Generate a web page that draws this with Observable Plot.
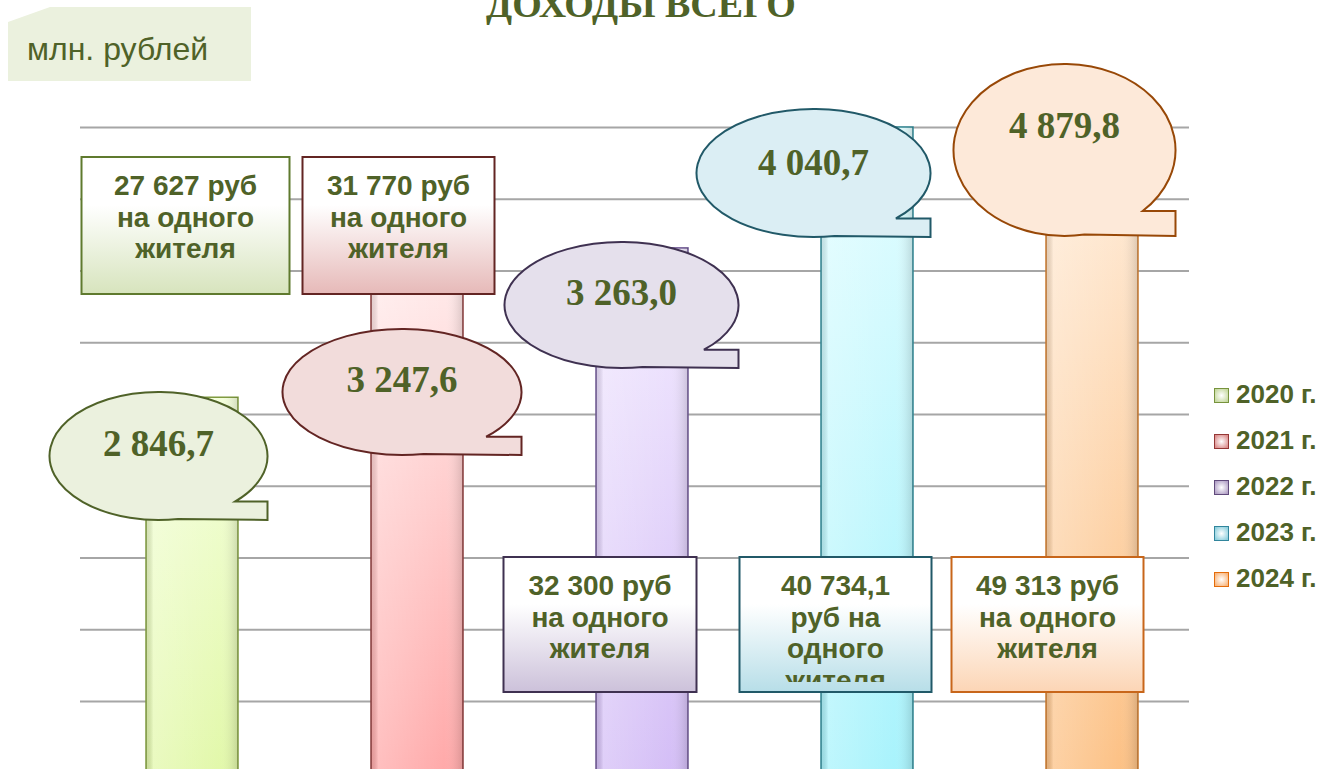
<!DOCTYPE html>
<html>
<head>
<meta charset="utf-8">
<script src="https://cdn.jsdelivr.net/npm/d3@7"></script>
<script src="https://cdn.jsdelivr.net/npm/@observablehq/plot@0.6"></script>
<style>
  html, body { margin: 0; padding: 0; overflow: hidden; background: #fff; }
  #page { position: relative; width: 1322px; height: 769px; overflow: hidden; }
  #chart { position: absolute; left: 0; top: 0; }
  #title { position: absolute; left: 0; width: 1282px; top: -14.8px; text-align: center;
           font: bold 38px/38px "Liberation Serif", "Times New Roman", serif; color: #4f6228; white-space: nowrap; }
  #unit { position: absolute; left: 8px; top: 7px; width: 243px; height: 74px; background: #ebf1de;
          clip-path: polygon(42px 0, 100% 0, 100% 100%, 0 100%, 0 15px); }
  #unit span { position: absolute; left: 19px; top: 26px; font: 32px/32px "Liberation Sans", Arial, sans-serif; color: #4f6228; white-space: nowrap; }
  .leg { position: absolute; left: 1214px; height: 26px; white-space: nowrap; }
  .leg i { position: absolute; left: 0; top: 7px; width: 13px; height: 13px; border: 1.5px solid; box-sizing: content-box; }
  .leg b { position: absolute; left: 22px; top: 0; font: bold 26px/26px "Liberation Sans", Arial, sans-serif; color: #4f6228; }
</style>
</head>
<body>
<div id="page">
  <div id="chart"></div>
  <div id="title"></div>
  <div id="unit"><span></span></div>
  <div id="legend"></div>
</div>
<svg id="defs" width="0" height="0" style="position:absolute;left:0;top:0"><defs></defs></svg>
<script>
// ---------------- DATA ----------------
const titleText = "ДОХОДЫ ВСЕГО";
const unitText = "млн. рублей";
const years = ["2020", "2021", "2022", "2023", "2024"];
const legendLabels = ["2020 г.", "2021 г.", "2022 г.", "2023 г.", "2024 г."];
const totals = [2846.7, 3247.6, 3263.0, 4040.7, 4879.8];          // млн. рублей
const perCapita = [27627, 31770, 32300, 40734.1, 49313];           // руб на одного жителя
const perCapitaUnit = "руб на одного жителя";
const gridValues = [1800, 2000, 2200, 2400, 2600, 2800, 3000, 3200, 3400, 3600];

// ---------------- STYLE / LAYOUT ----------------
const STYLE = {
  text: "#4f6228",
  barTop:    ["#f4ffdc", "#ffeded", "#f3ebff", "#e3fdff", "#ffeedd"],
  barBottom: ["#e2f8aa", "#ffa9a9", "#d4bef6", "#a8f3fc", "#fcc185"],
  barStroke: ["#7f9a3e", "#8a3b3b", "#6b5490", "#2f8794", "#c9782c"],
  bubbleFill:   ["#ebf1de", "#f2dcdb", "#e5e0ec", "#dbeef4", "#fde9d9"],
  bubbleStroke: ["#4f6228", "#632523", "#3f3151", "#215968", "#984807"],
  boxBottom: ["#d7e4bd", "#e6b9b8", "#ccc1da", "#b7dee8", "#fcd5b5"],
  boxStroke: ["#5f7a2e", "#632523", "#3f3151", "#215968", "#c8661a"],
  legFill:   ["#c6d9a0", "#dc8f8e", "#b3a2c7", "#8fd0de", "#f9b77f"],
  legStroke: ["#77933c", "#953735", "#604a7b", "#31859c", "#e46c0a"]
};
// annotation placement (pixels; dx relative to bar centre)
const LAYOUT = {
  bubbles: [
    {dx: -33.5, cy: 456, rx: 109,   ry: 64, tdy: 0},
    {dx: -15,   cy: 392, rx: 119.5, ry: 63, tdy: 0},
    {dx: -20.5, cy: 305, rx: 117,   ry: 63, tdy: 0},
    {dx: -53.5, cy: 173, rx: 117,   ry: 64, tdy: 2},
    {dx: -27.5, cy: 150, rx: 111,   ry: 86, tdy: -12}
  ],
  boxes: [
    {dx: -6.5,  y: 157, w: 208, h: 137},
    {dx: -18.5, y: 157, w: 192, h: 137},
    {dx: -42,   y: 557, w: 193, h: 135},
    {dx: -31.5, y: 557, w: 192, h: 135},
    {dx: -44.5, y: 557, w: 192, h: 135}
  ]
};

// ---------------- HELPERS ----------------
const loc = d3.formatLocale({decimal: ",", thousands: "\u00a0", grouping: [3], currency: ["", ""]});
const fmtTotal = loc.format(",.1f");
const fmtPer = v => Number.isInteger(v) ? loc.format(",d")(v) : loc.format(",.1f")(v);

const mctx = document.createElement("canvas").getContext("2d");
mctx.font = "bold 28px 'Liberation Sans'";
function wrap(text, maxW) {
  const words = text.split(" ");
  const lines = [];
  let cur = "";
  for (const w of words) {
    const t = cur ? cur + " " + w : w;
    if (cur && mctx.measureText(t).width > maxW) { lines.push(cur); cur = w; }
    else cur = t;
  }
  if (cur) lines.push(cur);
  return lines;
}

function bubblePath(cx, cy, rx, ry) {
  const f = 0.71;
  const p1x = cx + rx * Math.sqrt(1 - f * f), p1y = cy + ry * f;
  const tx = cx + rx, ty = cy + ry;
  const g = 0.18;
  const p2x = cx + rx * g, p2y = cy + ry * Math.sqrt(1 - g * g);
  return `M${p1x},${p1y}L${tx},${p1y}L${tx},${ty}L${p2x},${p2y}A${rx},${ry} 0 1 1 ${p1x},${p1y}Z`;
}

// ---------------- GRADIENT DEFS ----------------
const defs = d3.select("#defs defs");
years.forEach((yr, i) => {
  const g = defs.append("linearGradient").attr("id", "bar" + yr).attr("x1", 0).attr("y1", 0).attr("x2", 0).attr("y2", 1);
  g.append("stop").attr("offset", "0%").attr("stop-color", STYLE.barTop[i]);
  g.append("stop").attr("offset", "100%").attr("stop-color", STYLE.barBottom[i]);
  const b = defs.append("linearGradient").attr("id", "box" + yr).attr("x1", 0).attr("y1", 0).attr("x2", 0).attr("y2", 1);
  b.append("stop").attr("offset", "0%").attr("stop-color", "#ffffff");
  b.append("stop").attr("offset", "35%").attr("stop-color", "#ffffff").attr("stop-opacity", 1);
  b.append("stop").attr("offset", "100%").attr("stop-color", STYLE.boxBottom[i]);
});
const sh = defs.append("linearGradient").attr("id", "shadeH").attr("x1", 0).attr("y1", 0).attr("x2", 1).attr("y2", 0);
sh.append("stop").attr("offset", "0%").attr("stop-color", "#000").attr("stop-opacity", 0.10);
sh.append("stop").attr("offset", "8%").attr("stop-color", "#fff").attr("stop-opacity", 0.25);
sh.append("stop").attr("offset", "80%").attr("stop-color", "#fff").attr("stop-opacity", 0.0);
sh.append("stop").attr("offset", "100%").attr("stop-color", "#000").attr("stop-opacity", 0.14);

// ---------------- TABLE ----------------
const table = years.map((year, i) => ({year, i, total: totals[i], perCapita: perCapita[i]}));

// ---------------- ANNOTATION MARK ----------------
function annotations(index, scales) {
  const sx = scales.x;
  const bw = typeof sx.bandwidth === "function" ? sx.bandwidth() : (sx.bandwidth || 0);
  const center = yr => sx(yr) + bw / 2;
  const g = d3.create("svg:g");
  const gdefs = g.append("defs");
  table.forEach(d => {
    const i = d.i, c = center(d.year);
    // per-capita box
    const b = LAYOUT.boxes[i];
    const bx = c + b.dx - b.w / 2;
    g.append("rect").attr("x", bx).attr("y", b.y).attr("width", b.w).attr("height", b.h)
      .attr("fill", `url(#box${d.year})`).attr("stroke", STYLE.boxStroke[i]).attr("stroke-width", 2);
    gdefs.append("clipPath").attr("id", "clip" + d.year)
      .append("rect").attr("x", bx).attr("y", b.y).attr("width", b.w).attr("height", b.h - 10);
    const lines = wrap(fmtPer(d.perCapita) + " " + perCapitaUnit, 155);
    const t = g.append("text").attr("clip-path", `url(#clip${d.year})`)
      .attr("text-anchor", "middle").attr("fill", STYLE.text)
      .attr("font-family", "'Liberation Sans', Arial, sans-serif").attr("font-weight", "bold").attr("font-size", 28);
    lines.forEach((ln, k) => t.append("tspan").attr("x", bx + b.w / 2).attr("y", b.y + 38 + k * 31.5).text(ln));
    // bubble
    const u = LAYOUT.bubbles[i];
    const cx = c + u.dx;
    g.append("path").attr("d", bubblePath(cx, u.cy, u.rx, u.ry))
      .attr("fill", STYLE.bubbleFill[i]).attr("stroke", STYLE.bubbleStroke[i]).attr("stroke-width", 2);
    g.append("text").attr("x", cx).attr("y", u.cy + u.tdy).attr("text-anchor", "middle")
      .attr("fill", STYLE.text).attr("font-family", "'Liberation Serif', 'Times New Roman', serif")
      .attr("font-weight", "bold").attr("font-size", 37).text(fmtTotal(d.total));
  });
  return g.node();
}

// ---------------- PLOT ----------------
const plot = Plot.plot({
  width: 1322,
  height: 780,
  marginLeft: 80,
  marginRight: 117,
  marginTop: 127,
  marginBottom: 7.25,
  x: {domain: years, paddingInner: 0.591, paddingOuter: 0.2955, axis: null},
  y: {domain: [1800, 3600], clamp: true, axis: null},
  color: {type: "identity"},
  style: {background: "transparent", overflow: "visible"},
  marks: [
    Plot.ruleY(gridValues, {stroke: "#a6a6a6", strokeWidth: 2, insetRight: 16}),
    Plot.barY(table, {x: "year", y: "total", fill: d => `url(#bar${d.year})`, stroke: d => STYLE.barStroke[d.i], strokeWidth: 1.5}),
    Plot.barY(table, {x: "year", y: "total", fill: "url(#shadeH)"}),
    annotations
  ]
});
document.getElementById("chart").appendChild(plot);

// ---------------- TITLE / UNIT / LEGEND ----------------
document.getElementById("title").textContent = titleText;
document.querySelector("#unit span").textContent = unitText;
const leg = d3.select("#legend");
legendLabels.forEach((lab, i) => {
  const row = leg.append("div").attr("class", "leg").style("top", (381 + 46 * i) + "px");
  row.append("i").style("border-color", STYLE.legStroke[i])
    .style("background", `radial-gradient(circle, #ffffff 0%, ${STYLE.legFill[i]} 85%)`);
  row.append("b").text(lab);
});
</script>
</body>
</html>
